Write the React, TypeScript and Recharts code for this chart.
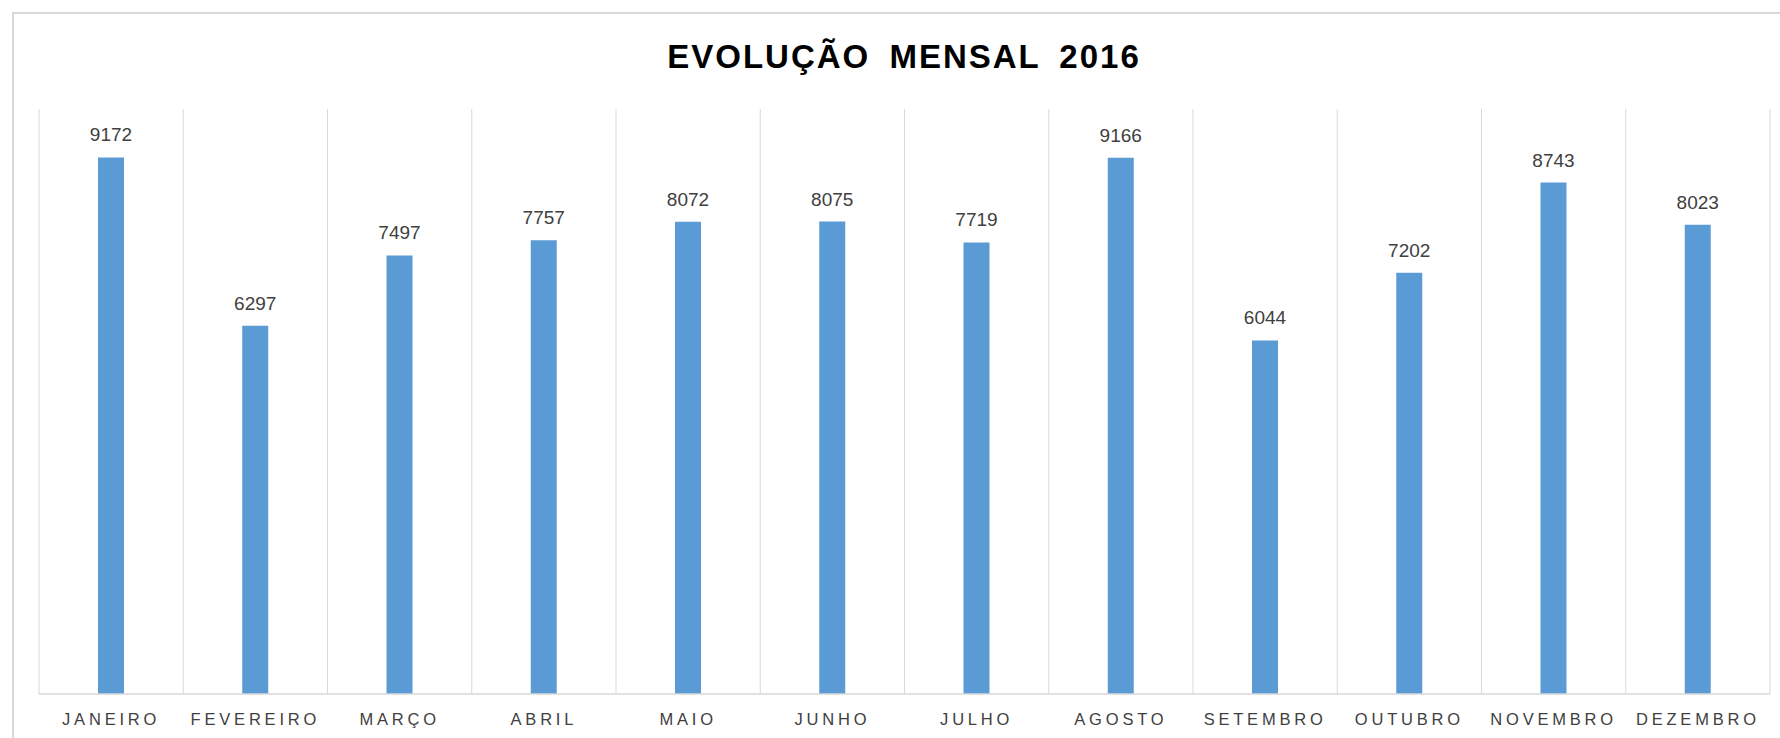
import { BarChart, Bar, XAxis, YAxis, CartesianGrid, LabelList } from 'recharts';

const months = [
  'JANEIRO', 'FEVEREIRO', 'MARÇO', 'ABRIL', 'MAIO', 'JUNHO',
  'JULHO', 'AGOSTO', 'SETEMBRO', 'OUTUBRO', 'NOVEMBRO', 'DEZEMBRO',
];
const totals = [9172, 6297, 7497, 7757, 8072, 8075, 7719, 9166, 6044, 7202, 8743, 8023];
const yDomain = [0, 10000];

const data = months.map((m, i) => ({ month: m, total: totals[i] }));

export default function App() {
  // grid lines sit on the category borders, not on the tick centres
  const bandEdges = ({ offset }: any) => {
    const step = offset.width / months.length;
    return months.map((_, i) => offset.left + i * step).concat(offset.left + offset.width);
  };

  return (
    <div style={{ position: 'absolute', left: 0, top: 0, width: 1780, height: 738, overflow: 'hidden', background: '#fff' }}>
      <div
        style={{
          position: 'absolute', left: 12, top: 12, width: 1820, height: 800,
          border: '2px solid #d9d9d9', boxSizing: 'border-box',
        }}
      />
      <div
        style={{
          position: 'absolute', left: 0, top: 38, width: 1808, textAlign: 'center',
          fontFamily: 'Liberation Sans, Arial, sans-serif', fontWeight: 'bold', fontSize: 33,
          letterSpacing: 2, wordSpacing: 8, color: '#000',
        }}
      >
        EVOLUÇÃO MENSAL 2016
      </div>
      <div style={{ position: 'absolute', left: 0, top: 0 }}>
        <BarChart
          width={1780}
          height={738}
          data={data}
          margin={{ top: 109, right: 10, left: 39, bottom: 0 }}
          barSize={26}
        >
          <CartesianGrid horizontal={false} stroke="#d9d9d9" verticalCoordinatesGenerator={bandEdges} />
          <XAxis
            dataKey="month"
            height={44}
            tickLine={false}
            axisLine={{ stroke: '#d9d9d9', strokeWidth: 1.5 }}
            interval={0}
            tickMargin={13}
            tick={{ fill: '#404040', fontSize: 16.5, letterSpacing: 3.8, fontFamily: 'Liberation Sans, Arial, sans-serif' }}
          />
          <YAxis hide domain={yDomain} />
          <Bar dataKey="total" fill="#5b9bd5" isAnimationActive={false}>
            <LabelList
              dataKey="total"
              position="top"
              offset={16}
              fill="#404040"
              fontSize={19}
              fontFamily="Liberation Sans, Arial, sans-serif"
            />
          </Bar>
        </BarChart>
      </div>
    </div>
  );
}
